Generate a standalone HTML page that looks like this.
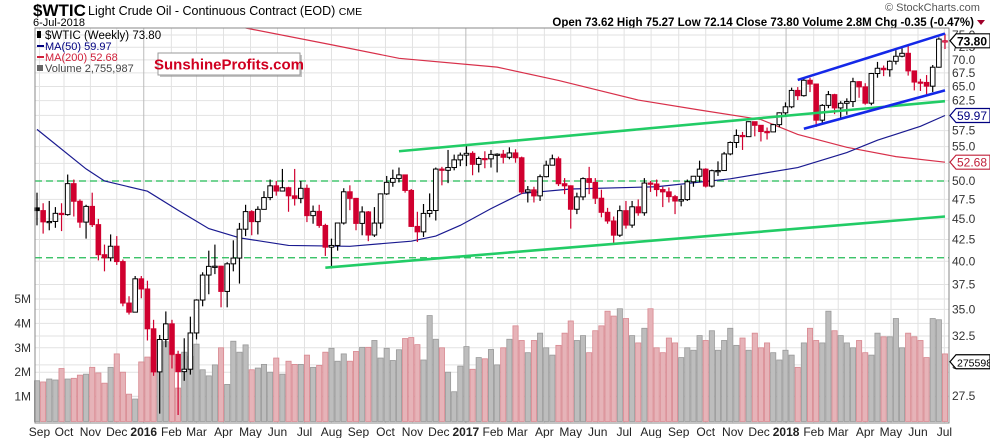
<!DOCTYPE html>
<html><head><meta charset="utf-8">
<style>
body{margin:0;background:#fff;}
svg{display:block;font-family:"Liberation Sans",Arial,sans-serif;}
</style></head>
<body>
<svg id="chart" width="990" height="438" viewBox="0 0 990 438" xmlns="http://www.w3.org/2000/svg">
  <g>
    <text x="33" y="16" font-size="17" font-weight="bold" fill="#000">$WTIC</text>
    <text x="88" y="15" font-size="12.5" fill="#000">Light Crude Oil - Continuous Contract (EOD) <tspan font-size="10.5">CME</tspan></text>
    <text x="33" y="26" font-size="11" fill="#000">6-Jul-2018</text>
    <text x="885" y="11" font-size="11" fill="#555">© StockCharts.com</text>
    <text x="974" y="26" font-size="11.5" font-weight="bold" fill="#000" text-anchor="end">Open 73.62  High 75.27  Low 72.14  Close 73.80  Volume 2.8M  Chg -0.35 (-0.47%)</text>
    <polygon points="977,20 985,20 981,25" fill="#a0002a"/>
  </g>
  <g id="grid"></g>
  <g id="vol"></g>
  <g id="lines"></g>
  <g id="candles"></g>
  <g id="trend"></g>
  <rect x="35" y="28" width="914" height="395" fill="none" stroke="#888" stroke-width="1"/>
  <g id="axes"></g>
  <g>
    <rect x="37" y="31" width="4" height="7" fill="#000"/>
    <text x="45" y="39" font-size="11.5" fill="#000">$WTIC (Weekly) 73.80</text>
    <rect x="37" y="45" width="7" height="2" fill="#000080"/>
    <text x="45" y="50" font-size="11" fill="#000080">MA(50) 59.97</text>
    <rect x="37" y="56" width="7" height="2" fill="#d0203a"/>
    <text x="45" y="61" font-size="11" fill="#d0203a">MA(200) 52.68</text>
    <rect x="37" y="65" width="6" height="6" fill="#666"/>
    <text x="45" y="72" font-size="11" fill="#444">Volume 2,755,987</text>
  </g>
  <g>
    <rect x="160" y="55" width="142" height="22" fill="#888" opacity="0.5"/>
    <rect x="158" y="53" width="142" height="22" fill="#fff" stroke="#999"/>
    <text x="229" y="69.5" font-size="15" font-weight="bold" fill="#d00020" text-anchor="middle">SunshineProfits.com</text>
  </g>
</svg>
<script>
const closes=[46.05,44.63,44.68,45.70,45.54,49.63,47.26,44.60,46.59,44.29,40.74,40.39,41.71,39.97,35.62,34.73,38.10,37.04,33.16,29.42,32.19,33.62,30.89,29.44,29.64,32.78,35.92,38.50,39.44,39.46,36.79,39.72,40.36,43.73,45.92,44.66,46.21,47.75,49.33,48.62,49.07,47.98,47.64,48.99,45.41,45.95,44.19,41.60,41.80,44.49,48.52,47.64,44.44,45.88,43.03,44.48,48.24,49.81,50.35,50.85,48.70,44.07,43.41,45.69,46.06,51.68,51.50,51.90,53.02,53.72,53.99,52.37,53.22,53.17,53.83,53.86,53.40,54.05,53.33,48.49,48.78,47.97,50.60,52.24,53.18,49.62,49.33,46.22,47.84,50.33,49.80,47.66,45.83,44.74,43.01,46.04,44.23,46.54,45.77,49.71,49.58,48.82,48.51,47.87,47.29,47.48,49.89,50.66,51.67,49.29,51.45,51.47,53.90,55.64,56.74,56.55,58.95,58.36,57.36,57.30,58.47,60.42,61.44,64.30,63.37,66.14,65.45,59.20,61.68,63.55,61.25,62.04,62.34,65.88,64.94,62.06,67.39,68.38,68.10,69.72,70.70,71.28,67.88,65.81,65.74,65.06,68.58,74.15,73.80];
const highs=[48.4,47.0,47.3,46.5,47.0,50.9,50.2,47.5,46.8,48.4,45.0,41.9,43.1,42.9,40.2,36.3,38.4,38.4,37.9,34.0,32.6,34.8,34.0,31.2,32.3,34.3,36.0,38.8,41.2,41.9,39.5,39.9,42.4,44.5,46.8,46.1,46.6,48.6,50.2,50.0,51.7,49.2,51.7,50.0,49.5,46.7,46.8,44.4,42.6,44.5,49.0,49.4,47.7,46.6,46.0,46.5,48.3,50.7,51.6,51.9,50.9,48.9,45.9,46.9,48.3,51.9,52.0,54.5,53.8,54.1,55.2,54.3,53.5,54.3,54.5,54.0,54.5,54.9,54.6,53.5,49.3,49.2,50.9,52.9,53.8,53.5,50.4,49.4,48.4,50.5,52.0,50.4,48.8,46.4,45.3,46.7,47.3,47.3,47.5,50.4,50.0,50.2,49.2,49.1,48.1,49.4,50.2,50.7,52.9,51.8,51.6,52.8,54.2,55.8,57.7,57.3,59.0,58.9,58.3,58.0,58.6,60.5,62.2,64.8,64.9,66.7,66.6,65.3,61.9,64.2,63.7,62.4,62.9,66.6,66.0,65.6,67.5,69.6,68.9,69.9,71.9,72.3,72.8,67.4,66.4,67.1,69.0,74.5,75.27];
const lows=[44.2,43.2,43.6,43.9,43.5,45.4,45.3,43.9,42.6,44.0,40.1,38.9,40.0,39.6,35.3,34.5,35.6,36.1,32.1,29.1,26.2,31.5,29.7,26.1,28.7,29.2,32.2,35.3,36.5,38.6,35.2,35.2,38.9,37.6,42.9,43.0,43.1,46.2,47.4,48.0,48.8,45.9,46.7,47.0,44.6,44.4,43.9,40.6,39.2,41.2,44.3,46.1,43.6,43.0,42.3,42.8,43.8,48.1,49.2,49.8,48.4,44.0,42.2,42.8,45.2,44.8,49.4,49.7,51.5,52.1,52.1,50.8,51.2,51.8,51.9,51.2,52.5,53.1,52.6,48.2,47.1,47.1,47.3,50.5,52.2,49.3,48.2,43.8,45.6,47.4,48.2,46.9,45.2,44.4,42.1,42.8,43.8,43.9,45.4,45.4,48.5,47.9,46.5,47.1,45.6,46.6,47.3,49.2,49.8,49.1,49.1,50.7,51.4,53.7,54.8,54.5,56.5,56.6,55.8,56.1,57.4,58.1,60.1,61.2,62.6,63.2,64.0,58.1,58.6,61.2,60.2,59.4,60.1,61.4,63.0,61.8,61.7,66.6,66.9,66.8,69.1,70.5,67.0,64.3,64.2,63.6,64.0,68.5,72.14];
const firstOpen=46.4;
const lastOpen=73.62;
const volumes=[1.65,1.6,1.72,1.68,2.15,1.72,1.75,1.88,1.92,2.2,1.97,1.55,2.2,2.75,2.0,1.1,0.9,2.42,2.62,3.35,3.3,3.25,2.7,1.35,2.82,2.65,3.15,2.1,1.85,2.3,3.0,1.5,3.27,2.82,3.12,2.1,2.17,2.32,2.0,2.58,1.92,2.45,2.32,2.32,2.7,2.2,2.28,2.82,2.98,2.45,2.75,2.45,2.85,3.02,3.02,3.3,2.58,2.98,2.48,2.92,3.38,3.42,3.13,2.5,4.32,3.35,3.0,2.0,1.2,2.25,3.05,2.12,2.6,2.55,2.93,2.3,3.0,3.35,3.9,3.3,2.8,3.3,3.6,3.0,2.7,3.1,3.6,4.1,3.3,3.5,2.8,3.7,3.9,4.5,4.3,4.6,4.2,3.5,3.2,3.8,4.6,3.0,2.8,3.4,3.2,2.6,3.0,2.9,3.5,3.3,3.7,2.9,3.3,3.8,3.1,3.4,2.9,3.6,3.0,3.2,2.8,2.5,2.9,2.7,2.2,3.2,3.8,3.3,3.2,4.5,3.7,3.5,3.2,3.0,3.3,2.8,2.7,3.6,3.45,3.45,4.2,3.0,3.6,3.45,3.3,2.6,4.2,4.15,2.75];
const ma50Idx=[0,8,11,18,23,28,33,41,51,61,65,69,74,79,87,101,113,124,132,137,144,148];
const ma50Val=[57.7,51.7,50.0,48.6,46.1,43.8,42.7,41.8,41.7,42.3,42.9,44.2,46.3,48.3,48.9,49.2,50.3,51.9,54.1,56.0,58.2,59.97];
const ma200Idx=[34,48,59,75,85,98,108,118,124,132,140,148];
const ma200Val=[76.6,73.0,70.3,68.6,66.1,62.6,60.9,59.3,56.9,54.9,53.5,52.68];
const trendNames=['green-upper-trendline','green-lower-trendline','blue-upper-channel','blue-lower-channel'];
const trendStart=[[59,54.3],[47,39.3],[124,66.2],[125,57.8]];
const trendEnd=[[148,62.4],[148,45.3],[148,75.3],[148,64.3]];
const priceTicks=[75.0,72.5,70.0,67.5,65.0,62.5,60.0,57.5,55.0,52.5,50.0,47.5,45.0,42.5,40.0,37.5,35.0,32.5,30.0,27.5];
const volTicks=[1,2,3,4,5];
const volTickLabels=['1M','2M','3M','4M','5M'];
const monthLabels=['Sep','Oct','Nov','Dec','2016','Feb','Mar','Apr','May','Jun','Jul','Aug','Sep','Oct','Nov','Dec','2017','Feb','Mar','Apr','May','Jun','Jul','Aug','Sep','Oct','Nov','Dec','2018','Feb','Mar','Apr','May','Jun','Jul'];
const monthIdx=[0.4,4.4,8.7,13,17.4,21.9,26,30.4,34.8,39.2,43.6,48,52.4,56.8,61.2,65.5,69.9,74.3,78.3,82.7,87,91.4,95.7,100.1,104.6,109,113.4,117.7,122.1,126.6,130.6,135,139.2,143.6,147.9];
const dashedLevels=[50.0,40.4];

const NS='http://www.w3.org/2000/svg';
const X0=37, DX=6.135, Y0=35, K=360;
const xS=i=>X0+i*DX;
const yP=p=>Y0+K*Math.log(75/p);
const yV=v=>421-24.4*v;
function mk(tag,attrs,parent){const e=document.createElementNS(NS,tag);for(const k in attrs)e.setAttribute(k,attrs[k]);parent.appendChild(e);return e;}
const grid=document.getElementById('grid'),vol=document.getElementById('vol'),lines=document.getElementById('lines'),cg=document.getElementById('candles'),tg=document.getElementById('trend'),ax=document.getElementById('axes');

priceTicks.forEach(p=>{
  const l=mk('line',{x1:35,x2:949,y1:yP(p),y2:yP(p),stroke:'#e2e2e2','stroke-width':1},grid);
  
  
  const t=mk('text',{x:952,y:yP(p)+4,'font-size':12,fill:'#333'},ax);
  t.textContent=p.toFixed(1);
  
  
});
volTicks.forEach((v,i)=>{
  const l=mk('line',{x1:35,x2:949,y1:yV(v),y2:yV(v),stroke:'#e2e2e2','stroke-width':1},grid);
  
  
  const t=mk('text',{x:31,y:yV(v)+4,'font-size':12,fill:'#333','text-anchor':'end'},ax);
  t.textContent=volTickLabels[i];
  
  
});
monthLabels.forEach((m,i)=>{
  const x=xS(monthIdx[i]);
  const yr=/^\d{4}$/.test(m);
  const l=mk('line',{x1:x,x2:x,y1:28,y2:423,stroke:yr?'#bbb':'#e2e2e2','stroke-width':1},grid);
  
  
  const t=mk('text',{x:x,y:436,'font-size':12,fill:'#222','text-anchor':'middle','font-weight':yr?'bold':'normal'},ax);
  t.textContent=m;
  
  
});
dashedLevels.forEach(p=>{
  const l=mk('line',{x1:35,x2:949,y1:yP(p),y2:yP(p),stroke:'#22bb55','stroke-width':1.2,'stroke-dasharray':'7,4'},lines);
  
  
});
volumes.forEach((v,i)=>{
  const down=i>0&&closes[i]<closes[i-1];
  const r=mk('rect',{x:xS(i)-2.6,y:yV(v),width:5.2,height:421.5-yV(v),fill:down?'#e6b3b8':'#bdbdbd',stroke:down?'#d88890':'#999','stroke-width':0.8},vol);
  
  
});
function poly(idx,val,color,name,w){
  const pts=idx.map((k,j)=>xS(k)+','+Math.max(28,yP(val[j]))).join(' ');
  const p=mk('polyline',{points:pts,fill:'none',stroke:color,'stroke-width':w},lines);
  
  
}
poly(ma200Idx,ma200Val,'#d8304a','ma200-line',1.2);
poly(ma50Idx,ma50Val,'#1a1a90','ma50-line',1.2);
closes.forEach((c,i)=>{
  const o=i===0?firstOpen:(i===closes.length-1?lastOpen:closes[i-1]);
  const down=i>0&&c<closes[i-1];
  const col=down?'#d0002f':'#000';
  const x=xS(i);
  const w=mk('line',{x1:x,x2:x,y1:yP(highs[i]),y2:yP(lows[i]),stroke:col,'stroke-width':1.2},cg);
  
  
  const top=yP(Math.max(o,c)),bot=yP(Math.min(o,c));
  const hollow=c>o;
  const b=mk('rect',{x:x-2.3,y:top,width:4.6,height:Math.max(1.2,bot-top),fill:hollow?'#fff':col,stroke:col,'stroke-width':1},cg);
  
  
});
trendNames.forEach((n,i)=>{
  const blue=n.indexOf('blue')===0;
  const l=mk('line',{x1:xS(trendStart[i][0]),y1:yP(trendStart[i][1]),x2:xS(trendEnd[i][0]),y2:yP(trendEnd[i][1]),stroke:blue?'#1428e8':'#22cc66','stroke-width':2.6},tg);
  
  
});
function tag(y,txt,color,name,bold,fs){
  const g=mk('g',{},ax);
  
  
  mk('polygon',{points:`950,${y} 956,${y-7} 990,${y-7} 990,${y+7} 956,${y+7}`,fill:'#fff',stroke:color,'stroke-width':1.2},g);
  const t=mk('text',{x:957,y:y+4.5,'font-size':fs,fill:color,'font-weight':bold?'bold':'normal'},g);
  t.textContent=txt;
}
tag(yP(73.80),'73.80','#000','last-price-tag',true,12);
tag(yP(59.97),'59.97','#000080','ma50-tag',false,12);
tag(yP(52.68),'52.68','#c0203a','ma200-tag',false,12);
tag(yV(2.756)+8,'2755987','#000','volume-tag',false,10.5);
</script>
</body></html>
